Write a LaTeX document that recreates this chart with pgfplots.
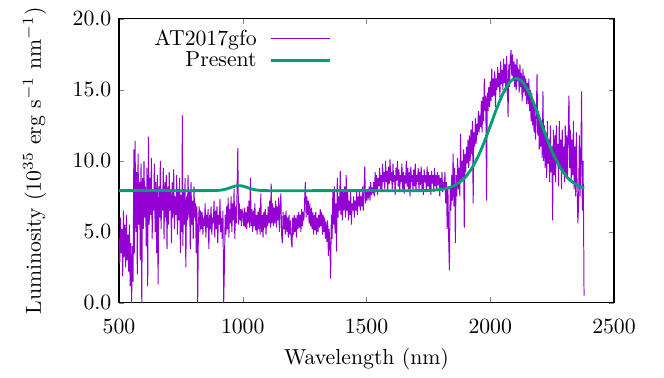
\documentclass[border=0pt]{standalone}
\usepackage{pgfplots}
\pgfplotsset{compat=1.18}
\usepackage{pgfplotstable}
\definecolor{gpviolet}{HTML}{9400D3}
\definecolor{gpgreen}{HTML}{009E73}

\pgfplotstableread{
x y
500 4.5
503 2.8
506 6.0
509 3.5
512 5.2
515 1.9
518 6.5
521 3.2
524 5.5
527 2.5
530 6.2
533 3.0
536 4.8
539 2.2
542 5.5
545 1.2
548 4.2
551 0.0
554 4.0
557 1.5
560 10.8
562 3.5
565 11.4
568 5.0
571 9.2
574 2.0
577 10.5
580 5.5
583 8.5
586 3.0
589 9.8
592 0.0
595 8.8
598 5.2
601 10.0
604 6.0
607 8.2
610 4.0
613 9.5
616 1.2
619 11.7
622 5.5
625 8.8
628 6.2
631 10.2
634 4.5
637 8.0
640 6.5
643 9.8
646 5.0
649 8.5
652 3.5
655 9.0
658 1.3
661 8.2
664 6.0
667 10.0
670 5.2
673 7.8
676 6.5
679 9.5
682 4.5
685 8.5
688 6.0
691 9.0
694 3.8
697 8.2
700 5.5
703 9.2
706 6.5
709 7.8
712 4.2
715 8.5
718 6.0
721 9.4
724 5.2
727 7.5
730 6.2
733 9.0
736 4.8
739 8.0
742 5.8
745 8.8
748 3.5
751 7.6
754 5.0
756 13.2
758 4.0
761 8.0
764 5.5
767 8.8
770 2.5
773 7.5
776 5.8
779 9.0
782 6.0
785 7.8
788 3.8
791 8.5
794 5.5
797 7.2
800 4.5
803 8.2
806 6.0
809 7.0
812 3.5
815 6.8
818 0.0
821 5.5
824 6.8
827 5.0
830 6.5
833 5.2
836 6.4
839 4.8
842 6.0
845 5.4
848 7.0
851 4.6
854 6.2
857 5.3
860 6.6
863 3.8
866 6.2
869 5.2
872 6.8
875 4.8
878 6.0
881 5.6
884 7.2
887 4.6
890 6.5
893 5.2
896 6.8
899 4.2
902 6.2
905 5.5
908 7.3
911 5.0
914 6.0
917 4.5
920 6.5
923 0.0
926 2.6
929 6.2
932 4.8
935 6.8
938 5.2
941 7.4
944 4.6
947 6.6
950 5.6
953 7.5
956 5.0
959 7.0
962 5.8
965 8.0
968 4.5
971 6.8
974 5.6
977 7.8
980 10.9
983 5.5
986 7.0
989 5.8
992 6.6
995 5.4
998 6.5
1001 6.3
1004 5.4
1007 6.7
1010 5.3
1013 6.4
1016 5.2
1019 6.8
1022 5.6
1025 7.2
1028 5.3
1031 8.8
1034 5.4
1037 6.6
1040 5.0
1043 6.5
1046 5.4
1049 7.0
1052 5.1
1055 6.2
1058 4.8
1061 6.4
1064 5.2
1067 6.7
1070 4.8
1073 7.7
1076 5.0
1079 6.2
1082 4.6
1085 6.4
1088 5.3
1091 6.6
1094 4.8
1097 6.2
1100 5.4
1103 6.8
1106 5.6
1109 7.2
1112 5.3
1115 8.4
1118 5.6
1121 7.0
1124 5.4
1127 6.7
1130 5.6
1133 7.2
1136 5.3
1139 6.8
1142 5.8
1145 7.4
1148 5.0
1151 6.7
1154 7.7
1157 4.8
1160 4.2
1163 6.4
1166 5.2
1169 6.2
1172 4.8
1175 6.5
1178 5.0
1181 6.0
1184 4.6
1187 6.2
1190 4.8
1193 5.8
1196 4.4
1199 3.9
1202 6.0
1205 4.8
1208 6.2
1211 5.0
1214 6.0
1217 4.6
1220 6.2
1223 5.2
1226 6.4
1229 5.3
1232 6.2
1235 5.0
1238 6.6
1241 5.4
1244 6.4
1247 5.8
1250 7.2
1253 8.5
1256 6.0
1259 7.5
1262 6.2
1265 7.2
1268 5.6
1271 7.0
1274 5.4
1277 6.7
1280 5.2
1283 6.4
1286 4.8
1289 6.2
1292 5.1
1295 6.4
1298 4.8
1301 6.0
1304 5.0
1307 6.2
1310 5.3
1313 6.6
1316 5.4
1319 6.4
1322 4.8
1325 6.2
1328 5.0
1331 6.0
1334 4.5
1337 5.7
1340 4.3
1343 5.8
1346 3.3
1349 5.2
1352 4.1
1355 1.7
1358 6.2
1361 4.5
1364 7.8
1367 5.5
1370 8.2
1373 4.9
1376 7.0
1379 3.6
1382 8.8
1385 6.0
1388 7.5
1391 6.5
1394 9.3
1397 6.2
1400 8.0
1403 5.8
1406 7.8
1409 6.5
1412 8.2
1415 6.0
1418 9.0
1421 6.5
1424 7.8
1427 5.8
1430 7.2
1433 6.2
1436 7.8
1439 5.5
1442 7.0
1445 6.5
1448 7.5
1451 6.0
1454 7.2
1457 6.5
1460 7.8
1463 6.2
1466 7.5
1469 6.8
1472 8.0
1475 6.5
1478 7.5
1481 6.8
1484 8.2
1487 6.5
1490 7.8
1493 9.6
1496 7.0
1499 8.0
1502 7.2
1505 7.8
1508 7.5
1511 8.2
1514 7.2
1517 8.5
1520 7.6
1523 8.0
1526 7.8
1529 8.5
1532 7.5
1535 9.2
1538 8.0
1541 9.0
1544 7.6
1547 8.8
1550 8.2
1553 9.5
1556 8.0
1559 9.0
1562 7.8
1565 9.8
1568 8.5
1571 9.2
1574 8.0
1577 10.0
1580 8.5
1583 9.3
1586 7.8
1589 9.6
1592 8.4
1595 10.1
1598 8.6
1601 9.2
1604 8.0
1607 9.8
1610 8.5
1613 9.0
1616 7.6
1619 9.5
1622 8.6
1625 10.0
1628 8.2
1631 9.4
1634 7.8
1637 9.0
1640 8.5
1643 9.8
1646 8.0
1649 9.2
1652 7.7
1655 9.0
1658 8.4
1661 10.0
1664 8.2
1667 9.5
1670 8.0
1673 9.2
1676 7.5
1679 9.6
1682 8.5
1685 9.0
1688 7.8
1691 9.4
1694 8.2
1697 9.8
1700 8.0
1703 9.0
1706 8.5
1709 9.5
1712 7.8
1715 9.2
1718 8.3
1721 9.6
1724 8.0
1727 9.0
1730 7.6
1733 9.4
1736 8.5
1739 9.0
1742 7.8
1745 9.6
1748 8.2
1751 9.2
1754 8.0
1757 9.0
1760 7.6
1763 9.3
1766 8.4
1769 9.0
1772 7.8
1775 9.5
1778 8.2
1781 9.0
1784 7.9
1787 9.2
1790 8.3
1793 9.0
1796 7.5
1799 8.8
1802 8.0
1805 9.2
1808 7.8
1811 8.5
1814 8.0
1817 9.2
1820 7.0
1823 8.5
1826 5.2
1829 8.0
1832 4.5
1835 2.3
1838 8.2
1841 6.5
1844 9.0
1847 7.2
1850 10.5
1853 6.8
1856 9.5
1859 4.2
1862 9.0
1865 7.5
1868 10.2
1871 8.0
1874 9.5
1877 7.5
1880 11.9
1883 8.5
1886 10.0
1889 8.8
1892 10.8
1895 5.3
1898 10.5
1901 9.2
1904 11.0
1907 9.8
1910 11.5
1913 9.5
1916 11.8
1919 10.0
1922 12.2
1925 10.5
1928 12.8
1931 7.0
1934 12.0
1937 11.0
1940 13.0
1943 11.2
1946 12.6
1949 11.8
1952 13.5
1955 12.0
1958 13.2
1961 12.4
1964 14.2
1967 12.0
1970 14.5
1973 12.8
1976 15.8
1979 13.5
1982 14.6
1985 7.2
1988 14.8
1991 13.5
1994 15.2
1997 13.8
2000 15.6
2003 14.2
2006 16.5
2009 14.5
2012 15.8
2015 14.6
2018 16.3
2021 13.8
2024 15.8
2027 15.0
2030 16.6
2033 15.2
2036 16.2
2039 14.5
2042 17.0
2045 15.4
2048 16.4
2051 15.0
2054 17.2
2057 15.5
2060 16.8
2063 14.8
2066 17.4
2069 15.6
2072 13.1
2075 16.8
2078 15.2
2081 17.2
2084 17.8
2087 16.0
2090 17.5
2093 15.8
2096 17.0
2099 15.2
2102 16.8
2105 15.0
2108 17.2
2111 15.6
2114 16.5
2117 14.8
2120 16.8
2123 15.2
2126 16.2
2129 14.2
2132 16.5
2135 14.8
2138 16.0
2141 14.6
2144 15.8
2147 14.0
2150 15.5
2153 14.0
2156 15.8
2159 13.5
2162 15.0
2165 12.8
2168 14.8
2171 12.5
2174 14.2
2177 12.0
2180 13.8
2183 11.5
2186 13.0
2189 16.1
2192 11.8
2195 13.5
2198 10.8
2201 13.0
2204 11.0
2207 12.8
2210 10.2
2213 14.9
2216 10.0
2219 12.5
2222 9.5
2225 12.0
2228 8.8
2231 12.8
2234 9.8
2237 11.5
2240 8.5
2243 12.5
2246 9.2
2249 11.0
2252 5.8
2255 12.2
2258 9.0
2261 11.8
2264 8.5
2267 12.5
2270 9.8
2273 11.2
2276 8.2
2279 12.8
2282 9.5
2285 11.5
2288 8.0
2291 12.2
2294 9.2
2297 11.0
2300 8.5
2303 12.5
2306 9.0
2309 11.8
2312 8.8
2315 12.0
2318 14.6
2321 9.5
2324 12.2
2327 8.5
2330 11.5
2333 9.0
2336 12.8
2339 8.0
2342 11.0
2345 7.5
2348 12.0
2351 8.2
2354 5.6
2357 7.0
2360 11.8
2363 7.5
2366 10.0
2369 14.9
2372 6.5
2375 10.0
2377 6.0
2379 0.5
}\spec

\pgfplotstableread{
x y
500 7.90
600 7.90
700 7.90
800 7.90
880 7.91
900 7.92
920 7.96
940 8.05
960 8.17
972 8.23
985 8.25
998 8.23
1010 8.17
1030 8.05
1050 7.96
1070 7.92
1100 7.90
1300 7.90
1500 7.90
1700 7.90
1750 7.91
1800 7.98
1825 8.07
1850 8.21
1875 8.47
1900 8.86
1925 9.47
1950 10.28
1975 11.29
2000 12.45
2025 13.64
2050 14.69
2075 15.45
2090 15.71
2105 15.80
2120 15.71
2135 15.45
2160 14.69
2185 13.64
2210 12.45
2235 11.29
2260 10.28
2285 9.47
2310 8.86
2335 8.47
2360 8.21
2380 8.08
}\model

\begin{document}
\begin{tikzpicture}
\begin{axis}[
  scale only axis,
  width=227.7pt, height=130.6pt,
  xmin=500, xmax=2500, ymin=0, ymax=20,
  xtick={500,1000,1500,2000,2500},
  ytick={0,5,10,15,20},
  tick align=inside,
  major tick length=2.5pt,
  axis line style={line width=0.5pt},
  xticklabel style={/pgf/number format/1000 sep={}, yshift=-4pt},
  yticklabel style={/pgf/number format/.cd, fixed, fixed zerofill, precision=1},
  xlabel={Wavelength (nm)},
  ylabel={Luminosity ($10^{35}$ erg s$^{-1}$ nm$^{-1}$)},
  ylabel shift=5.3pt,
  legend style={at={(0.049,0.995)}, anchor=north west, draw=none, fill=none,
    legend plot pos=right, cells={anchor=east}, row sep=-2.5pt},
  legend image code/.code={\path (0pt,0pt); \draw[#1] (4pt,0pt) -- (31pt,0pt);},
]
\addplot[gpviolet, line width=0.45pt] table[x=x,y=y] {\spec};
\addlegendentry{AT2017gfo}
\addplot[gpgreen, line width=1.3pt, smooth] table[x=x,y=y] {\model};
\addlegendentry{Present}
\end{axis}
\path (-54.74pt,-33.12pt) rectangle (250.7pt,138pt);
\end{tikzpicture}
\end{document}
